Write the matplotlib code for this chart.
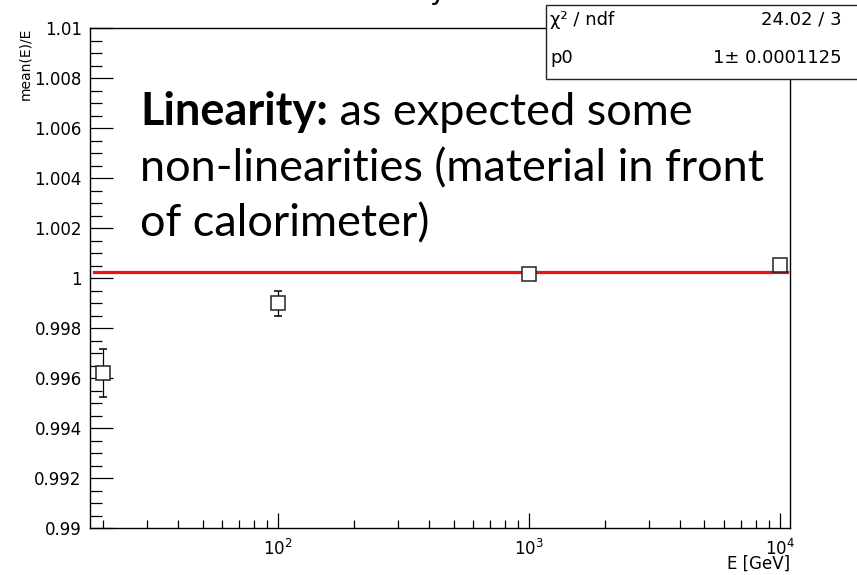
import matplotlib
matplotlib.use("Agg")
import matplotlib.pyplot as plt
from matplotlib.patches import Rectangle
from matplotlib.ticker import FixedLocator, FuncFormatter, LogLocator, MultipleLocator, NullFormatter
import numpy as np

# beam energies and reconstructed mean(E)/E with errors
energy = [20, 100, 1000, 10000]
ratio = [0.99620, 0.99899, 1.00018, 1.00052]
ratio_err = [0.00097, 0.00051, 0.00022, 0.00020]

# constant fit result (pol0)
fit_p0 = 1.00022
chi2_text = "24.02 / 3"
p0_text = "1\u00b1 0.0001125"

W, H = 857, 575
fig = plt.figure(figsize=(W / 100, H / 100), dpi=100)
ax = fig.add_axes([90 / W, 47 / H, 700 / W, 500 / H])

ax.set_xscale("log")
ax.set_xlim(17.8, 10960)
ax.set_ylim(0.99, 1.01)

# fit line across the fit range
ax.axhline(fit_p0, xmin=0.005, xmax=0.995, color="#ee1111", lw=2.3, zorder=2)

ax.errorbar(energy, ratio, yerr=ratio_err, fmt="s", mfc="white", mec="#222222",
            mew=1.1, ms=10.5, ecolor="black", elinewidth=0.9, capsize=3,
            capthick=0.9, zorder=3)

# ROOT-like axes: ticks inside, left and bottom only
ax.yaxis.set_major_locator(MultipleLocator(0.002))
ax.yaxis.set_minor_locator(MultipleLocator(0.0005))
ax.yaxis.set_major_formatter(FuncFormatter(lambda v, p: f"{v:.3f}".rstrip("0").rstrip(".")))
ax.xaxis.set_major_locator(FixedLocator([100, 1000, 10000]))
ax.xaxis.set_major_formatter(FuncFormatter(lambda v, p: r"$10^{%d}$" % round(np.log10(v))))
ax.xaxis.set_minor_locator(LogLocator(base=10, subs=np.arange(2, 10), numticks=20))
ax.xaxis.set_minor_formatter(NullFormatter())

ax.tick_params(axis="y", which="major", direction="in", length=16.5, width=0.9,
               labelsize=12, pad=6, colors="black")
ax.tick_params(axis="y", which="minor", direction="in", length=8.5, width=0.9)
ax.tick_params(axis="x", which="major", direction="in", length=10.5, width=0.9,
               labelsize=12, pad=8)
ax.tick_params(axis="x", which="minor", direction="in", length=5.5, width=0.9)
for s in ax.spines.values():
    s.set_linewidth(1.0)

fig.text(25.5 / W, 1 - 28 / H, "mean(E)/E", rotation=90, ha="center", va="top", fontsize=10)
fig.text(790 / W, 1 - 564 / H, "E [GeV]", ha="right", va="center", fontsize=12)

# histogram title, mostly outside the canvas
fig.text(447 / W, 1 + 1 / H, "Linearity", ha="right", va="baseline", fontsize=20)

# stats box
fig.add_artist(Rectangle((545.7 / W, 1 - 79 / H), 320 / W, 74 / H, transform=fig.transFigure,
                         facecolor="white", edgecolor="#222222", lw=1.0, zorder=2))
fig.text(550 / W, 1 - 20 / H, "\u03c7\u00b2 / ndf", ha="left", va="center", fontsize=13, zorder=4)
fig.text(842 / W, 1 - 20 / H, chi2_text, ha="right", va="center", fontsize=13, zorder=4)
fig.text(550 / W, 1 - 58 / H, "p0", ha="left", va="center", fontsize=13, zorder=4)
fig.text(842 / W, 1 - 58 / H, p0_text, ha="right", va="center", fontsize=13, zorder=4)

# slide annotation
note_font = dict(family="Lato", fontsize=32.5, color="black")
x0 = 140 / W
t = fig.text(x0, 1 - 125 / H, "Linearity:", weight="bold", va="baseline", **note_font)
fig.canvas.draw()
bb = t.get_window_extent()
fig.text(bb.x1 / W, 1 - 125 / H, " as expected some", va="baseline", **note_font)
fig.text(x0, 1 - 181.7 / H, "non-linearities (material in front", va="baseline", **note_font)
fig.text(x0, 1 - 236.7 / H, "of calorimeter)", va="baseline", **note_font)

fig.savefig("out.png", dpi=100)
